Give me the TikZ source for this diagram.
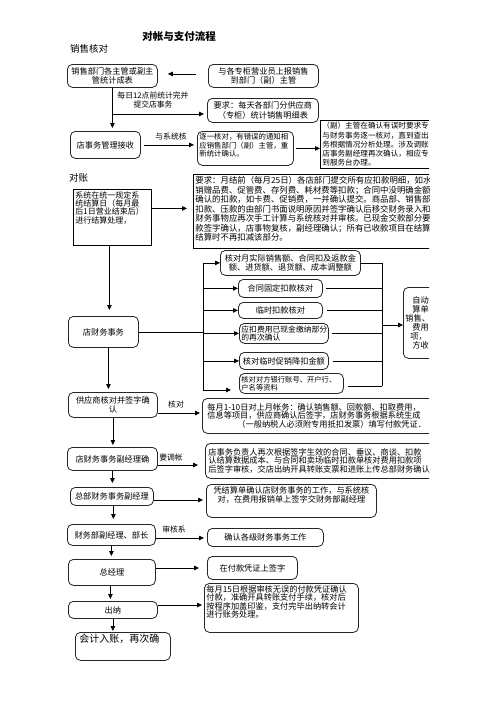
\documentclass[tikz,border=0pt]{standalone}
\usepackage{fontspec}
\setmainfont{Noto Sans CJK SC}
\usetikzlibrary{arrows.meta}
\newcommand{\mytop}[3]{\parbox[c][#1][t]{#2}{#3}}
\begin{document}
\begin{tikzpicture}[x=1pt,y=-1pt,
  every node/.style={font=\fontsize{8.2}{9.5}\selectfont,inner sep=2pt},
  rbox/.style={draw=black!85,line width=0.8pt,rounded corners=5pt,anchor=north west,align=center},
  sbox/.style={draw=black,line width=0.8pt,anchor=north west,align=left},
  arr/.style={draw=black,line width=0.8pt,-{Triangle[length=5pt,width=4.5pt]}},
  ln/.style={draw=black,line width=0.8pt},
  lbl/.style={font=\fontsize{7.8}{9.2}\selectfont,align=center},
  sec/.style={font=\fontsize{9.5}{11}\selectfont,anchor=west}
]
\useasboundingbox (0,0) rectangle (496,702);
\fill[white] (0,0) rectangle (496,702);
\begin{scope}
\clip (0,0) rectangle (429,702);
\node[font=\fontsize{10.5}{12}\selectfont\bfseries] (title) at (179,37) {对帐与支付流程};
\node[sec] (sec1) at (68,49) {销售核对};
\node[rbox,minimum width=90pt,minimum height=23pt] (b1) at (67,64) {销售部门各主管或副主\\管统计成表};
\node[rbox,minimum width=110pt,minimum height=23pt] (b2) at (208,64) {与各专柜营业员上报销售\\到部门（副）主管};
\node[rbox,minimum width=111pt,minimum height=24pt] (b4) at (207,98) {要求：每天各部门分供应商\\（专柜）统计销售明细表};
\node[rbox,minimum width=70pt,minimum height=27pt] (b3) at (70,131) {店事务管理接收};
\node[rbox,font=\fontsize{7.4}{8.6}\selectfont] (b5) at (197,131) {\mytop{30pt}{92pt}{\raggedright 逐一核对，有错误的通知相\\应销售部门（副）主管，重\\新统计确认。}};
\node[sbox,font=\fontsize{7.6}{9.2}\selectfont] (b6) at (320,120) {\mytop{44pt}{200pt}{\raggedright （副）主管在确认有误时要求专\\与财务事务逐一核对，直到查出\\务根据情况分析处理。涉及调账\\店事务副经理再次确认，相应专\\到服务台办理。}};

\draw[arr,shorten <=12pt,shorten >=10pt] ([yshift=2pt]b2.west) -- ([yshift=2pt]b1.east);
\coordinate (v1) at (112,114);
\draw[arr,shorten >=3pt] (b1.south) -- (b1.south |- b3.north);
\draw[arr,shorten >=3pt] (v1) -- (v1 -| b4.west);
\node[lbl] (l1) at (153,100) {每日12点前统计完并\\提交店事务};
\draw[arr,shorten <=3pt,shorten >=3pt] (b3.east) -- (b3.east -| b5.west);
\node[lbl] (l2) at (171,137) {与系统核};
\draw[arr,shorten <=2pt] (b5.east) -- (b5.east -| b6.west);

\node[sec] (sec2) at (67,178) {对账};
\node[sbox,font=\fontsize{8}{8.4}\selectfont] (b7) at (73,189) {\mytop{52pt}{74pt}{\raggedright 系统在统一规定系\\统结算日（每月最\\后1日营业结束后）\\进行结算处理，}};
\node[sbox,font=\fontsize{8.4}{9.5}\selectfont] (b8) at (193,174) {\mytop{70pt}{260pt}{\raggedright 要求：月结前（每月25日）各店部门提交所有应扣款明细，如水\\销赠品费、促管费、存列费、耗材费等扣款；合同中没明确金额\\确认的扣款，如卡费、促销费，一并确认提交。商品部、销售部\\扣款、压款的由部门书面说明原因并签字确认后移交财务录入和\\财务事物应再次手工计算与系统核对并审核。已现金交款部分要\\款签字确认，店事物复核，副经理确认；所有已收款项目在结算\\结算时不再扣减该部分。}};
\draw[arr,shorten >=6pt] ([yshift=9pt]b7.east) -- ([yshift=9pt]b7.east -| b8.west);

\node[rbox,minimum width=70pt,minimum height=31pt] (b9) at (68,316) {店财务事务};
\draw[arr,shorten >=6pt] ([xshift=-3pt]b7.south) -- ([xshift=-3pt]b7.south |- b9.north);

\node[rbox,minimum width=140pt,minimum height=25pt] (s1) at (220,250) {核对月实际销售额、合同扣及返款金\\额、进货额、退货额、成本调整额};
\node[rbox,minimum width=84pt,minimum height=18pt] (s2) at (238,279) {合同固定扣款核对};
\node[rbox,minimum width=84pt,minimum height=16pt] (s3) at (238,302) {临时扣款核对};
\node[rbox,align=left,text width=85pt,minimum height=20pt,font=\fontsize{7.8}{8.6}\selectfont] (s4) at (239,323) {应扣费用已现金缴纳部分\\的再次确认};
\node[rbox,minimum width=89pt,minimum height=17pt] (s5) at (239,352) {核对临时促销降扣金额};
\node[rbox,align=left,text width=100pt,minimum height=20pt,font=\fontsize{7.3}{8.2}\selectfont] (s6) at (239,373) {核对对方银行账号、开户行、\\户名等资料};
\node[rbox,align=left,text width=76pt,minimum height=71pt,font=\fontsize{8.2}{9}\selectfont] (auto) at (403,287) {\hspace*{7pt}自动\\\hspace*{7pt}算单\\销售、\\\hspace*{7pt}费用\\\hspace*{5pt}项，\\\hspace*{7pt}方收};

\coordinate (L1) at (203,264);
\coordinate (L6) at (203,390);
\draw[ln] (b9.east) -- (b9.east -| L1);
\draw[ln] (L1 |- s1.west) -- (L6);
\draw[arr] (L1 |- s1.west) -- (s1.west);
\draw[arr] (L1 |- s2.west) -- (s2.west);
\draw[arr] (L1 |- s3.west) -- (s3.west);
\draw[arr] (L1 |- s4.west) -- (s4.west);
\draw[arr] (L1 |- s5.west) -- (s5.west);
\draw[arr,shorten >=8pt] (L6) -- (L6 -| s6.west);

\coordinate (R) at (382,0);
\draw[ln] (s1.east) -- (s1.east -| R);
\draw[ln,shorten <=3pt] (s2.east) -- (s2.east -| R);
\draw[ln,shorten <=4pt] (s3.east) -- (s3.east -| R);
\draw[ln,shorten <=3pt] (s4.east) -- (s4.east -| R);
\draw[ln,shorten <=4pt] (s5.east) -- (s5.east -| R);
\draw[ln,shorten <=4pt] ([yshift=-3pt]s6.east) -- ([yshift=-3pt]s6.east -| R);
\draw[ln] (s1.east -| R) -- ([yshift=-3pt]s6.east -| R);
\coordinate (R4) at (382,325);
\draw[arr] (R4) -- (R4 -| auto.west);

\node[rbox,minimum width=89pt,minimum height=25pt] (b10) at (68,392) {供应商核对并签字确\\认};
\draw[arr,shorten >=3pt] ([xshift=5pt]b9.south) -- ([xshift=5pt]b9.south |- b10.north);
\node[rbox,align=left,text width=230pt,inner xsep=5pt,minimum height=35pt,font=\fontsize{8.2}{8.6}\selectfont] (b11) at (202,398) {每月1-10日对上月帐务：确认销售额、回款额、扣取费用，\\信息等项目，供应商确认后签字，店财务事务根据系统生成\\\hspace*{30pt}（一般纳税人必须附专用抵扣发票）填写付款凭证．};
\coordinate (k1) at (157,413);
\draw[arr,shorten >=2pt] (b10.east |- k1) -- (k1 -| b11.west);
\node[lbl] (l3) at (176,405) {核对};

\node[rbox,minimum width=90pt,minimum height=23pt] (b12) at (67,447) {店财务事务副经理确};
\draw[arr,shorten >=2pt] (b10.south) -- (b10.south |- b12.north);
\node[rbox,align=left,text width=234pt,inner xsep=3pt,minimum height=35pt,font=\fontsize{8.2}{8.4}\selectfont] (b13) at (205,443) {店事务负责人再次根据签字生效的合同、垂议、商谈、扣款\\认结算数据成本、与合同和卖场临时扣款单核对费用扣款项\\后签字审核，交店出纳开具转账支票和进账上传总部财务确认};
\coordinate (k2) at (157,465);
\draw[arr,shorten >=7pt] (b12.east |- k2) -- (k2 -| b13.west);
\node[lbl] (l4) at (171,458) {要调帐};

\node[rbox,minimum width=83pt,minimum height=18pt] (b14) at (70,487) {总部财务事务副经理};
\draw[arr,shorten >=4pt] (b12.south) -- (b12.south |- b14.north);
\node[rbox,font=\fontsize{8.2}{8.8}\selectfont] (b15) at (206,484) {\mytop{29pt}{166pt}{\centering 凭结算单确认店财务事务的工作，与系统核\\对，在费用报销单上签字交财务部副经理}};
\coordinate (k3) at (157,500);
\draw[arr,shorten >=3pt] (k3) -- (k3 -| b15.west);
\draw[ln] (b14.east |- k3) -- (k3);

\node[rbox,minimum width=88pt,minimum height=21pt] (b16) at (67,524) {财务部副经理、部长};
\draw[arr,shorten >=5pt] ([xshift=1.5pt]b14.south) -- ([xshift=1.5pt]b14.south |- b16.north);
\node[rbox,minimum width=116pt,minimum height=18pt] (b17) at (207,528) {确认各级财务事务工作};
\coordinate (k4) at (157,538);
\draw[arr,shorten >=3pt] (b16.east |- k4) -- (k4 -| b17.west);
\node[lbl] (l5) at (174,530) {审核系};

\node[rbox,minimum width=87pt,minimum height=26pt] (b18) at (68,559) {总经理};
\draw[arr,shorten >=3pt] (b16.south) -- (b16.south |- b18.north);
\node[rbox,minimum width=90pt,minimum height=23pt] (b19) at (207,556) {在付款凭证上签字};
\coordinate (k5) at (157,568);
\draw[arr,shorten >=8pt] (b18.east |- k5) -- (k5 -| b19.west);

\node[rbox,minimum width=89pt,minimum height=17pt] (b20) at (68,601) {出纳};
\draw[arr,shorten >=2pt] ([xshift=-1.5pt]b18.south) -- ([xshift=-1.5pt]b18.south |- b20.north);
\node[rbox,font=\fontsize{8.2}{8.4}\selectfont] (b21) at (204,583) {\mytop{45pt}{150pt}{\raggedright 每月15日根据审核无误的付款凭证确认\\付款，准确开具转账支付手续，核对后\\按程序加盖印鉴，支付完毕出纳转会计\\进行账务处理。}};
\coordinate (k6) at (158,605);
\draw[arr,shorten >=2pt] (b20.east |- k6) -- (k6 -| b21.west);

\node[rbox,inner xsep=4pt,font=\fontsize{10}{12}\selectfont] (b22) at (75,632) {\mytop{24pt}{87pt}{\raggedright 会计入账，再次确}};
\draw[arr,shorten >=1pt] (b20.south) -- (b20.south |- b22.north);
\end{scope}
\end{tikzpicture}
\end{document}
